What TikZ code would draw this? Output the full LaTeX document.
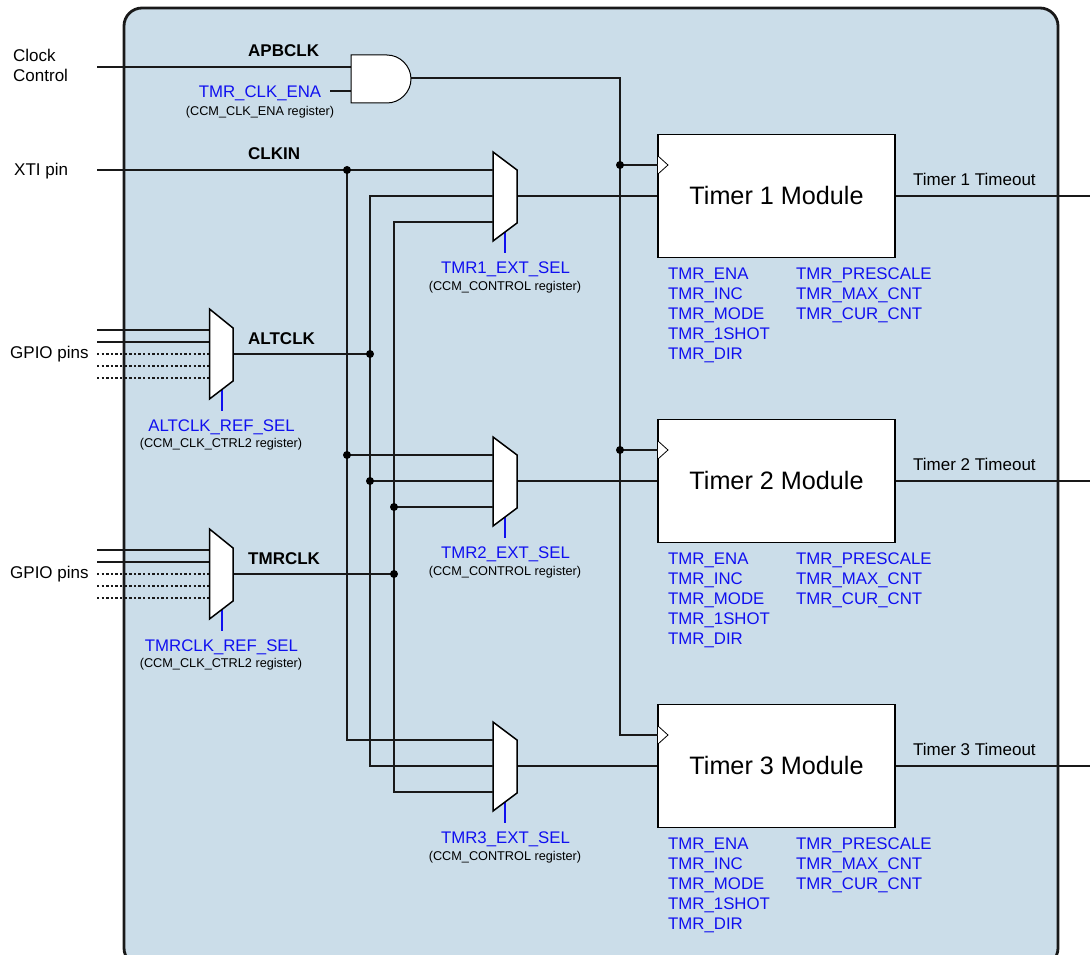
\documentclass[tikz,border=0pt]{standalone}
\usepackage{fontspec}
\setmainfont{Liberation Sans}
\usepackage{tikz}
\usepackage{xcolor}
\definecolor{panelblue}{RGB}{203,221,233}
\definecolor{regblue}{RGB}{16,16,240}
\newcommand{\muxbody}[1]{%
	\draw[muxline] (#1tl) -- (#1tr) -- (#1br) -- (#1bl) -- cycle;
}

\begin{document}
\begin{tikzpicture}[x=1pt,y=-1pt,
	wire/.style={line width=1.5pt,black!90},
	panel/.style={line width=2.8pt,black!90,fill=panelblue,rounded corners=18pt},
	muxline/.style={line width=1.5pt,black,fill=white},
	sel/.style={line width=1.5pt,regblue},
	lbl/.style={inner sep=0pt,font=\fontsize{17}{20}\selectfont},
	wname/.style={lbl,anchor=west,font=\fontsize{17}{20}\selectfont\bfseries},
	regname/.style={lbl,text=regblue,font=\fontsize{16.8}{20}\selectfont},
	regnote/.style={inner sep=0pt,font=\fontsize{12.7}{15}\selectfont},
	timerbox/.style={draw,line width=1.5pt,fill=white,inner sep=0pt,minimum width=237pt,minimum height=123pt,font=\fontsize{25.2}{30}\selectfont}]
	\useasboundingbox (0,0) rectangle (1090,955);
	\clip (0,0) rectangle (1090,955);
	\draw[panel] (124,8) rectangle (1058,966);

	% clock sources
	\coordinate(apbin) at (97,67);
	\coordinate(enain) at (330,91);
	\coordinate(xtiin) at (97,170);
	\coordinate(apbpin) at (351,67);
	\coordinate(enapin) at (351,91);
	\coordinate(andout) at (411,78);
	\coordinate(apbbus) at (620,78);
	\coordinate(clkdot) at (347,170);
	\coordinate(altdot) at (370,354);
	\coordinate(tmrdot) at (394,574);

	\node[lbl,anchor=west] (clockctl) at (13,55) {Clock};
	\node[lbl,anchor=west] (clockctlb) at (13,75) {Control};
	\node[lbl,anchor=west] (xtipin) at (14,171) {XTI pin};
	\node[wname] (apbname) at (248,51) {APBCLK};
	\node[wname] (clkname) at (248,154) {CLKIN};
	\node[wname] (altname) at (248,338.5) {ALTCLK};
	\node[wname] (tmrname) at (248,558.5) {TMRCLK};
	\node[regname] (enaname) at (260,93.5) {TMR\_CLK\_ENA};
	\node[regnote] (enanote) at (260,112) {(CCM\_CLK\_ENA register)};

	\draw[wire] (apbin) -- (apbpin);
	\draw[wire] (enain) -- (enapin);

	% timers with their muxes
	\foreach \n/\d in {1/0,2/285,3/570}{
		\begin{scope}[shift={(0,\d)}]
			\coordinate(mux\n tl) at (493,152);
			\coordinate(mux\n tr) at (517,170);
			\coordinate(mux\n br) at (517,223);
			\coordinate(mux\n bl) at (493,241);
			\coordinate(mux\n a) at (493,170);
			\coordinate(mux\n b) at (493,196);
			\coordinate(mux\n c) at (493,222);
			\coordinate(mux\n out) at (517,196);
			\coordinate(mux\n s) at (505,232);
			\coordinate(sel\n) at (505,253);
			\coordinate(clk\n) at (620,165);
			\coordinate(pin\n) at (658,165);
			\coordinate(pin\n t) at (658,156);
			\coordinate(pin\n m) at (668,165);
			\coordinate(pin\n b) at (658,174);
			\coordinate(out\n) at (1090,196);
			\node[timerbox] (timer\n) at (776.5,196) {\raisebox{2pt}{Timer \n{} Module}};
			\node[lbl,anchor=west] (tout\n) at (913,179.5) {Timer \n{} Timeout};
			\node[regname] (extname\n) at (505.5,269.5) {TMR\n\_EXT\_SEL};
			\node[regnote] (extnote\n) at (505,287) {(CCM\_CONTROL register)};
			\foreach \t [count=\i from 0] in {TMR\_ENA,TMR\_INC,TMR\_MODE,TMR\_1SHOT,TMR\_DIR}
				\node[regname,anchor=west] (bita\n\i) at (668,275.5+20*\i) {\t};
			\foreach \t [count=\i from 0] in {TMR\_PRESCALE,TMR\_MAX\_CNT,TMR\_CUR\_CNT}
				\node[regname,anchor=west] (bitb\n\i) at (796,275.5+20*\i) {\t};
			\draw[wire] (mux\n out) -- (timer\n.west);
			\draw[wire] (timer\n.east) -- (out\n);
			\draw[sel] (mux\n s) -- (sel\n);
			\muxbody{mux\n}
			\draw[line width=0.8pt,black,fill=white] (pin\n t) -- (pin\n m) -- (pin\n b);
		\end{scope}
	}

	% source muxes
	\foreach \m/\d/\w in {alt/0/ALTCLK\_REF\_SEL,tmr/220/TMRCLK\_REF\_SEL}{
		\begin{scope}[shift={(0,\d)}]
			\coordinate(\m tl) at (209.5,309);
			\coordinate(\m tr) at (233,328);
			\coordinate(\m br) at (233,381);
			\coordinate(\m bl) at (209.5,399);
			\coordinate(\m out) at (233,354);
			\coordinate(\m s) at (222,390);
			\coordinate(\m e) at (222,411);
			\foreach \y [count=\i] in {330,342}{
				\coordinate(\m in\i) at (97,\y);
				\coordinate(\m pin\i) at (209.5,\y);
				\draw[wire] (\m in\i) -- (\m pin\i);
			}
			\foreach \y [count=\i from 3] in {354,366,378}{
				\coordinate(\m in\i) at (97,\y);
				\coordinate(\m pin\i) at (209.5,\y);
				\draw[wire,line width=1.2pt,dash pattern=on 2.4pt off 2.2pt] (\m in\i) -- (\m pin\i);
			}
			\node[lbl,anchor=west] (\m gpio) at (10,354) {GPIO pins};
			\node[regname] (\m name) at (221.5,427.5) {\w};
			\node[regnote] (\m note) at (221,444) {(CCM\_CLK\_CTRL2 register)};
			\draw[sel] (\m s) -- (\m e);
		\end{scope}
	}

	% routing between sources and muxes
	\draw[wire] (xtiin) -- (mux1a);
	\draw[wire] (clkdot) |- (mux3a);
	\draw[wire] (mux1b) -| (mux3b -| altdot) -- (mux3b);
	\draw[wire] (mux1c) -| (mux3c -| tmrdot) -- (mux3c);
	\draw[wire] (altout) -- (altdot);
	\draw[wire] (tmrout) -- (tmrdot);
	\draw[wire] (mux2a -| clkdot) -- (mux2a);
	\draw[wire] (mux2b -| altdot) -- (mux2b);
	\draw[wire] (mux2c -| tmrdot) -- (mux2c);
	\draw[wire] (andout) -- (apbbus) |- (pin3);
	\draw[wire] (clk1) -- (pin1);
	\draw[wire] (clk2) -- (pin2);

	\muxbody{alt}
	\muxbody{tmr}
	\draw[line width=1pt,black,fill=white] (apbpin |- 0,55) -- (387,55) .. controls (400,55) and (411,66) .. (411,79) .. controls (411,92) and (400,103) .. (387,103) -- (apbpin |- 0,103) -- cycle;

	% junctions
	\foreach \c in {clkdot,altdot,tmrdot,clk1,clk2}
		\fill (\c) circle (4pt);
	\fill (mux2a -| clkdot) circle (4pt);
	\fill (mux2b -| altdot) circle (4pt);
	\fill (mux2c -| tmrdot) circle (4pt);
\end{tikzpicture}
\end{document}
